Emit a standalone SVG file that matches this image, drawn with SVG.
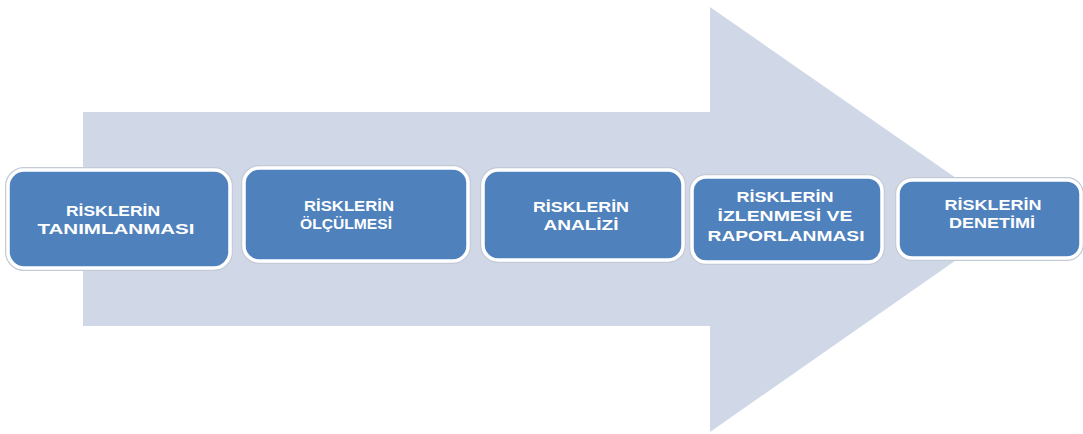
<svg xmlns="http://www.w3.org/2000/svg" width="1083" height="434" viewBox="0 0 1083 434">
<style>
.box{fill:#4f81bd;stroke:#ffffff;stroke-width:3.5}
.halo{fill:none;stroke:#c4cbd6;stroke-width:6}
.lbl{font-family:"Liberation Sans",Arial,sans-serif;font-weight:bold;font-size:15.5px;fill:#ffffff;text-anchor:middle}
</style>
<rect width="1083" height="434" fill="#ffffff"/>
<g id="arrow">
<polygon points="83,112 710,112 710,7 1015,219 710,432 710,326 83,326" fill="#d0d8e8"/>
</g>
<g id="connectors"></g>
<g id="n1">
<rect class="halo" x="8" y="170" width="222" height="98" rx="16"/>
<rect class="box" x="8" y="170" width="222" height="98" rx="16"/>
<text class="lbl" x="113" y="216" textLength="94" lengthAdjust="spacingAndGlyphs">RİSKLERİN</text>
<text class="lbl" x="116" y="234" textLength="157" lengthAdjust="spacingAndGlyphs">TANIMLANMASI</text>
</g>
<g id="n2">
<rect class="halo" x="244" y="168" width="224" height="93" rx="15"/>
<rect class="box" x="244" y="168" width="224" height="93" rx="15"/>
<text class="lbl" x="349" y="211" textLength="90" lengthAdjust="spacingAndGlyphs">RİSKLERİN</text>
<text class="lbl" x="346" y="229" textLength="92" lengthAdjust="spacingAndGlyphs">ÖLÇÜLMESİ</text>
</g>
<g id="n3">
<rect class="halo" x="483" y="170" width="200" height="90" rx="15"/>
<rect class="box" x="483" y="170" width="200" height="90" rx="15"/>
<text class="lbl" x="581" y="212" textLength="96" lengthAdjust="spacingAndGlyphs">RİSKLERİN</text>
<text class="lbl" x="581" y="230" textLength="75" lengthAdjust="spacingAndGlyphs">ANALİZİ</text>
</g>
<g id="n4">
<rect class="halo" x="692" y="177" width="190" height="85" rx="14"/>
<rect class="box" x="692" y="177" width="190" height="85" rx="14"/>
<text class="lbl" x="785" y="202" textLength="97" lengthAdjust="spacingAndGlyphs">RİSKLERİN</text>
<text class="lbl" x="785" y="221" textLength="135" lengthAdjust="spacingAndGlyphs">İZLENMESİ VE</text>
<text class="lbl" x="786" y="241" textLength="157" lengthAdjust="spacingAndGlyphs">RAPORLANMASI</text>
</g>
<g id="n5">
<rect class="halo" x="898" y="180" width="183" height="78" rx="14"/>
<rect class="box" x="898" y="180" width="183" height="78" rx="14"/>
<text class="lbl" x="993" y="210" textLength="97" lengthAdjust="spacingAndGlyphs">RİSKLERİN</text>
<text class="lbl" x="992" y="228" textLength="86" lengthAdjust="spacingAndGlyphs">DENETİMİ</text>
</g>
</svg>
